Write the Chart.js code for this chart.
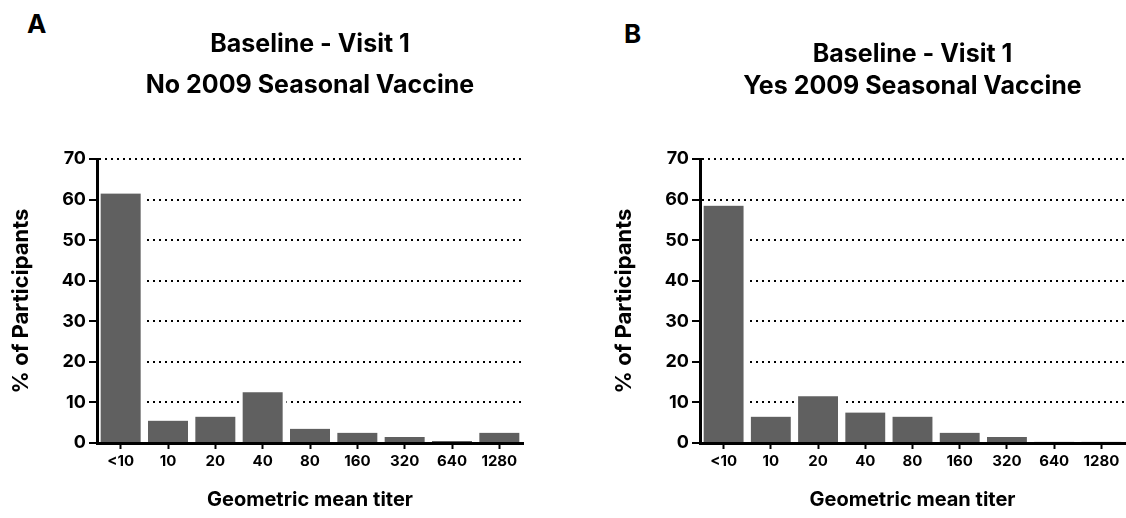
<!DOCTYPE html>
<html>
<head>
<meta charset="utf-8">
<script src="https://cdn.jsdelivr.net/npm/chart.js@4/dist/chart.umd.min.js"></script>
<style>
  html, body { margin: 0; padding: 0; background: #fff; }
  body { width: 1126px; height: 518px; position: relative; overflow: hidden;
         font-family: Inter, "Liberation Sans", Arial, sans-serif; }
  .panel { position: absolute; top: 0; width: 563px; height: 518px; }
  .letter { position: absolute; font-size: 26px; font-weight: bold; line-height: 26px; color: #000; }
</style>
</head>
<body>
<div class="letter" style="left:27px; top:11px;">A</div>
<div class="letter" style="left:624px; top:21px;">B</div>
<div class="panel" style="left:0px;"><canvas id="chartA" width="563" height="518"></canvas></div>
<div class="panel" style="left:563px;"><canvas id="chartB" width="563" height="518"></canvas></div>

<script>
// --- data ---
const titers = ["<10", "10", "20", "40", "80", "160", "320", "640", "1280"];
const noVaccinePct = [61.5, 5.5, 6.5, 12.5, 3.5, 2.5, 1.5, 0.5, 2.5];
const yesVaccinePct = [58.5, 6.5, 11.5, 7.5, 6.5, 2.5, 1.5, 0.3, 0.3];
const yTicks = [0, 10, 20, 30, 40, 50, 60, 70];

const titleLine1 = "Baseline - Visit 1";
const titleA = "No 2009 Seasonal Vaccine";
const titleB = "Yes 2009 Seasonal Vaccine";
const yTitle = "% of Participants";
const xTitle = "Geometric mean titer";

const FONT = 'Inter, "Liberation Sans", Arial, sans-serif';
Chart.defaults.color = "#000";
Chart.defaults.font.family = FONT;

function makeChart(id, values, subtitle, opts) {
  const ctx = document.getElementById(id).getContext("2d");
  return new Chart(ctx, {
    type: "bar",
    data: {
      labels: titers,
      datasets: [{
        data: values,
        backgroundColor: "#606060",
        borderColor: "#ffffff",
        borderWidth: { left: 4, right: 4, top: 0, bottom: 0 },
        borderSkipped: false,
        categoryPercentage: 1,
        barPercentage: 1
      }]
    },
    options: {
      responsive: false,
      animation: false,
      layout: { padding: opts.padding },
      plugins: {
        legend: { display: false },
        tooltip: { enabled: false },
        title: {
          display: true,
          text: [titleLine1, subtitle],
          fullSize: false,
          color: "#000",
          font: { size: 25, weight: "bold", lineHeight: opts.titleLH },
          padding: opts.titlePad
        }
      },
      scales: {
        x: {
          afterFit: s => { s.height = 75; },
          grid: {
            display: true,
            offset: false,
            drawOnChartArea: false,
            drawTicks: true,
            tickLength: 6,
            tickWidth: 2,
            tickColor: "#000",
            tickBorderDash: []
          },
          border: { display: true, color: "#000", width: 3, z: 1 },
          ticks: { font: { size: 15, weight: "bold" }, padding: 3, maxRotation: 0, color: "#000" },
          title: {
            display: true,
            text: xTitle,
            font: { size: 20, weight: "bold" },
            padding: { top: 0, bottom: 6 },
            color: "#000"
          }
        },
        y: {
          min: 0,
          max: 70,
          afterFit: s => { s.width = 97; },
          afterBuildTicks: s => { s.ticks = yTicks.map(v => ({ value: v })); },
          grid: {
            color: "#000",
            lineWidth: 2,
            drawTicks: true,
            tickLength: 8,
            tickWidth: 2,
            tickColor: "#000",
            tickBorderDash: []
          },
          border: { display: true, color: "#000", width: 3, z: 1, dash: [2, 4] },
          ticks: { font: { size: 18, weight: "bold" }, padding: 3, color: "#000" },
          title: {
            display: true,
            text: yTitle,
            font: { size: 22, weight: "bold" },
            padding: { top: 8, bottom: 0 },
            color: "#000"
          }
        }
      }
    }
  });
}

makeChart("chartA", noVaccinePct, titleA, {
  padding: { left: 0, right: 40, top: 0, bottom: 0 },
  titleLH: "41px",
  titlePad: { top: 24, bottom: 53 }
});

makeChart("chartB", yesVaccinePct, titleB, {
  padding: { left: 40, right: 1, top: 0, bottom: 0 },
  titleLH: "32.5px",
  titlePad: { top: 38, bottom: 56 }
});
</script>
</body>
</html>
